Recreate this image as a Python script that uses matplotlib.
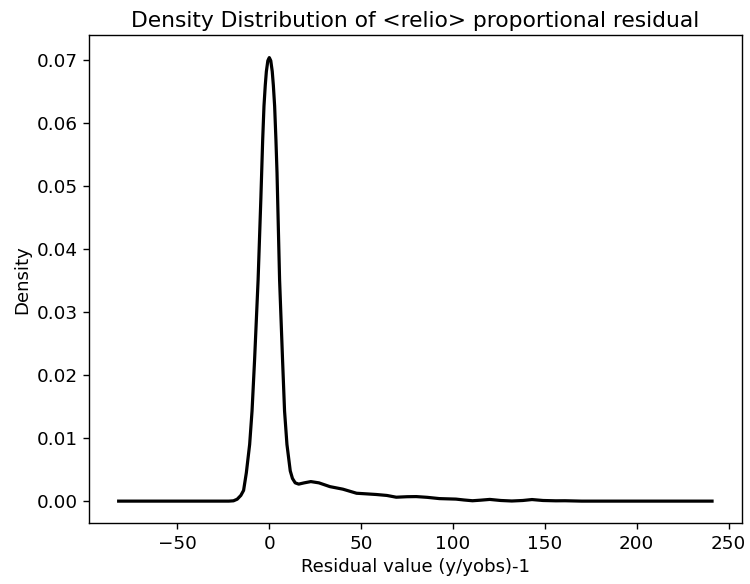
import matplotlib
matplotlib.use("Agg")
import matplotlib.pyplot as plt

# Residual values (x) and estimated density (y)
residual = [-82, -60, -40, -22, -19.5, -17.5, -15.5, -14, -12.5, -10.7, -9.4, -8.0,
            -6.1, -4.6, -3.6, -2.9, -2.2, -1.6, -0.8, 0, 0.8, 1.6, 2.2, 2.9, 3.6, 4.2, 5.6,
            7.2, 8.3, 9.6, 11.4, 12.6, 14.1, 16, 19, 22.6, 27, 33, 40, 47.5, 53,
            58.3, 64, 69.1, 75, 80, 86, 92.6, 101.6, 106, 110.6, 115, 120, 126,
            132, 138, 143, 149, 156, 161, 170, 200, 241]
density = [0, 0, 0, 0, 0.00005, 0.0003, 0.0009, 0.0017, 0.0045, 0.0090, 0.0143, 0.0225,
           0.0351, 0.0480, 0.0574, 0.0627, 0.0660, 0.0682, 0.0699, 0.0704, 0.0699, 0.0682,
           0.0660, 0.0627, 0.0574, 0.0521, 0.0351, 0.0225, 0.0143, 0.0090, 0.0048, 0.0036,
           0.0029, 0.0027, 0.0029, 0.0031, 0.0029, 0.0023, 0.0019, 0.00125, 0.00115,
           0.00105, 0.0009, 0.00062, 0.0007, 0.00072, 0.0006, 0.0004, 0.00032, 0.00018,
           0.00006, 0.00015, 0.00027, 0.0001, 0.00002, 0.0001, 0.00025, 0.0001, 0.00005,
           0.00006, 0.0, 0.0, 0.0]

fig = plt.figure(figsize=(7.5, 5.84), dpi=100)
ax = fig.add_axes([89 / 750, (584 - 523.3) / 584, (741.7 - 89) / 750, (523.3 - 35.4) / 584])
ax.plot(residual, density, color="black", linewidth=2.3)
ax.margins(x=0.05, y=0.05)
ax.set_xticks([-50, 0, 50, 100, 150, 200, 250])
ax.set_yticks([0.00, 0.01, 0.02, 0.03, 0.04, 0.05, 0.06, 0.07])
ax.set_yticklabels(["0.00", "0.01", "0.02", "0.03", "0.04", "0.05", "0.06", "0.07"])
ax.tick_params(labelsize=13.2, length=4.6, width=1.0)
for s in ax.spines.values():
    s.set_linewidth(1.0)
ax.set_title("Density Distribution of <relio> proportional residual", fontsize=15.7)
ax.set_xlabel("Residual value (y/yobs)-1", fontsize=13.1)
ax.set_ylabel("Density", fontsize=13.1)
fig.savefig("out.png", dpi=100)
